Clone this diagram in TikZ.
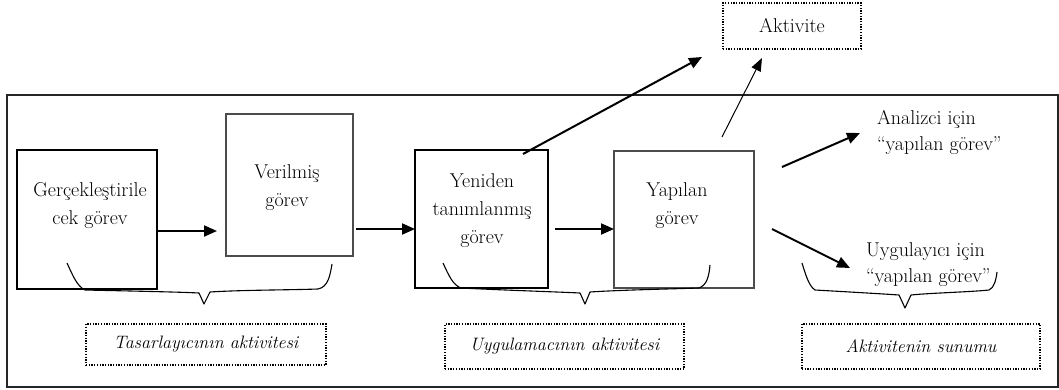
\documentclass[tikz,border=0pt]{standalone}
\usepackage{fontspec}
\usetikzlibrary{arrows.meta}
\begin{document}
\begin{tikzpicture}[x=1pt,y=-1pt,
  every node/.style={font=\fontsize{20}{28}\selectfont, inner sep=0pt, outer sep=0pt},
  thickbox/.style={draw, line width=2.4pt},
  thinbox/.style={draw=black!70, line width=1.3pt},
  dotbox/.style={draw, line width=1.3pt, dash pattern=on 1.3pt off 1.4pt, font=\fontsize{18}{20}\selectfont\itshape},
  txt/.style={align=center},
  side/.style={align=left, anchor=north west, font=\fontsize{20}{26}\selectfont},
  arr/.style={line width=2pt, -{Triangle[length=13pt,width=11pt]}},
  tarr/.style={line width=1pt, -{Triangle[length=13pt,width=10pt]}},
  bracepath/.style={line width=1.1pt, line join=round}
]
\useasboundingbox (0,0) rectangle (1059,389);
% outer frame
\draw[line width=1.5pt, black!85] (7,95) rectangle (1058,387);

% boxes
\node[thickbox, minimum width=140pt, minimum height=139pt] (b1) at (87,219.5) {};
\node[thinbox, minimum width=127pt, minimum height=142pt] (b2) at (289.5,185) {};
\node[thickbox, minimum width=133pt, minimum height=138pt] (b3) at (481.5,219) {};
\node[thinbox, minimum width=140pt, minimum height=137pt] (b4) at (684,219.5) {};

\node[txt] (t1) at (90,206) {Gerçekleştirile\\cek görev};
\node[txt] (t2) at (287,188) {Verilmiş\\görev};
\node[txt] (t3) at (482,211) {Yeniden\\tanımlanmış\\görev};
\node[txt] (t4) at (677,206) {Yapılan\\görev};

\node[dotbox, font=\fontsize{20}{22}\selectfont, minimum width=138pt, minimum height=46pt] (akt) at (792,26) {Aktivite};

\node[side] (an) at (877,110) {Analizci için\\“yapılan görev”};
\node[side] (uy) at (866,243) {Uygulayıcı için\\“yapılan görev”};

\node[dotbox, minimum width=240pt, minimum height=41pt] (l1) at (206,344.5) {Tasarlayıcının aktivitesi};
\node[dotbox, minimum width=239pt, minimum height=45pt] (l2) at (564.5,346.5) {Uygulamacının aktivitesi};
\node[dotbox, minimum width=238pt, minimum height=45pt] (l3) at (921,346.5) {Aktivitenin sunumu};

% arrows between boxes
\draw[arr] ([yshift=-11.5pt]b1.east) -- ([xshift=-9pt,yshift=-46pt]b2.west);
\draw[arr] ([xshift=3pt,yshift=-44pt]b2.east) -- ([yshift=-10pt]b3.west);
\draw[arr] ([xshift=7pt,yshift=-10pt]b3.east) -- ([yshift=-9.5pt]b4.west);

% upward arrows
\coordinate (up1) at (702,57);
\draw[arr] ([xshift=41.5pt,yshift=-4pt]b3.north) -- (up1);
\draw[tarr] ([xshift=38pt,yshift=14pt]b4.north) -- ([xshift=-30pt,yshift=-9pt]akt.south);

% right arrows
\draw[arr] ([xshift=28pt,yshift=52.5pt]b4.east) -- ([xshift=-17pt,yshift=-23pt]an.north west);
\draw[arr] ([xshift=18pt,yshift=-9.5pt]b4.east) -- ([xshift=-16pt,yshift=-25pt]uy.north west);

% braces
\draw[bracepath] (67,263) .. controls (73,276) and (77,286) .. (85,290)
  .. controls (130,291) and (180,292) .. (199,293) -- (204,304) -- (210,292)
  .. controls (240,290) and (290,290) .. (318,289)
  .. controls (328,287) and (330,276) .. (332,264);
\draw[bracepath] (443,263) .. controls (449,276) and (453,285) .. (461,288)
  .. controls (500,290) and (560,292) .. (580,293) -- (585,304) -- (590,292)
  .. controls (620,290) and (670,289) .. (699,288)
  .. controls (707,285) and (709,276) .. (710,265);
\draw[bracepath] (802,263) .. controls (806,276) and (809,286) .. (815,290)
  .. controls (850,292) and (885,294) .. (899,295) -- (905,308) -- (911,295)
  .. controls (930,293) and (970,292) .. (989,290)
  .. controls (994,288) and (996,280) .. (997,272);
\end{tikzpicture}
\end{document}
